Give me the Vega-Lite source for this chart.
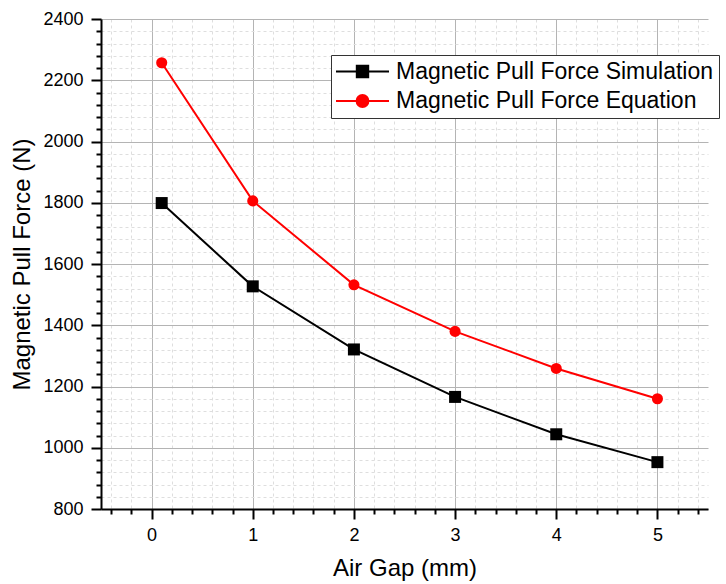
{
  "$schema": "https://vega.github.io/schema/vega-lite/v6.json",
  "width": 607,
  "height": 490,
  "autosize": {"type": "none"},
  "padding": {"left": 101, "top": 19, "right": 18, "bottom": 75},
  "background": "white",
  "config": {
    "view": {"stroke": null},
    "font": "Liberation Sans",
    "axis": {
      "labelFont": "Liberation Sans",
      "titleFont": "Liberation Sans",
      "labelColor": "black",
      "titleColor": "black",
      "titleFontWeight": "normal",
      "domainColor": "black",
      "domainWidth": 2,
      "tickColor": "black",
      "tickWidth": 2,
      "labelOverlap": false,
      "labelFlush": false
    }
  },
  "data": {
    "values": [
      {"gap": 0.1, "force": 1799, "series": "Magnetic Pull Force Simulation"},
      {"gap": 1, "force": 1527, "series": "Magnetic Pull Force Simulation"},
      {"gap": 2, "force": 1321, "series": "Magnetic Pull Force Simulation"},
      {"gap": 3, "force": 1166, "series": "Magnetic Pull Force Simulation"},
      {"gap": 4, "force": 1044, "series": "Magnetic Pull Force Simulation"},
      {"gap": 5, "force": 953, "series": "Magnetic Pull Force Simulation"},
      {"gap": 0.1, "force": 2257, "series": "Magnetic Pull Force Equation"},
      {"gap": 1, "force": 1806, "series": "Magnetic Pull Force Equation"},
      {"gap": 2, "force": 1532, "series": "Magnetic Pull Force Equation"},
      {"gap": 3, "force": 1380, "series": "Magnetic Pull Force Equation"},
      {"gap": 4, "force": 1259, "series": "Magnetic Pull Force Equation"},
      {"gap": 5, "force": 1160, "series": "Magnetic Pull Force Equation"}
    ]
  },
  "encoding": {
    "x": {
      "field": "gap",
      "type": "quantitative",
      "scale": {"domain": [-0.5, 5.5], "nice": false, "zero": false},
      "axis": {
        "title": "Air Gap (mm)",
        "titleFontSize": 24,
        "titlePadding": 12,
        "labelFontSize": 18,
        "labelPadding": 7,
        "values": [-0.4, -0.2, 0, 0.2, 0.4, 0.6, 0.8, 1, 1.2, 1.4, 1.6, 1.8, 2, 2.2, 2.4, 2.6, 2.8, 3, 3.2, 3.4, 3.6, 3.8, 4, 4.2, 4.4, 4.6, 4.8, 5, 5.2, 5.4],
        "labelExpr": "abs(datum.value - round(datum.value)) < 0.001 ? format(datum.value, 'd') : ''",
        "grid": true,
        "gridColor": {"condition": {"test": "abs(datum.value - round(datum.value)) < 0.001", "value": "#b4b4b4"}, "value": "#dedede"},
        "gridDash": {"condition": {"test": "abs(datum.value - round(datum.value)) < 0.001", "value": []}, "value": [3, 3]},
        "tickSize": {"condition": {"test": "abs(datum.value - round(datum.value)) < 0.001", "value": 10}, "value": 5}
      }
    },
    "y": {
      "field": "force",
      "type": "quantitative",
      "scale": {"domain": [800, 2400], "nice": false, "zero": false},
      "axis": {
        "title": "Magnetic Pull Force (N)",
        "titleFontSize": 24,
        "titlePadding": 8,
        "labelFontSize": 18,
        "labelPadding": 8,
        "values": [800, 840, 880, 920, 960, 1000, 1040, 1080, 1120, 1160, 1200, 1240, 1280, 1320, 1360, 1400, 1440, 1480, 1520, 1560, 1600, 1640, 1680, 1720, 1760, 1800, 1840, 1880, 1920, 1960, 2000, 2040, 2080, 2120, 2160, 2200, 2240, 2280, 2320, 2360, 2400],
        "labelExpr": "datum.value % 200 === 0 ? datum.label : ''",
        "format": "d",
        "grid": true,
        "gridColor": {"condition": {"test": "datum.value % 200 === 0", "value": "#b4b4b4"}, "value": "#dedede"},
        "gridDash": {"condition": {"test": "datum.value % 200 === 0", "value": []}, "value": [3, 3]},
        "tickSize": {"condition": {"test": "datum.value % 200 === 0", "value": 10}, "value": 5}
      }
    },
    "color": {
      "field": "series",
      "type": "nominal",
      "sort": ["Magnetic Pull Force Simulation", "Magnetic Pull Force Equation"],
      "scale": {"domain": ["Magnetic Pull Force Simulation", "Magnetic Pull Force Equation"], "range": ["#000000", "#ff0000"]},
      "legend": {
        "title": null,
        "orient": "none",
        "legendX": 230,
        "legendY": 36,
        "direction": "vertical",
        "labelFont": "Liberation Sans",
        "labelFontSize": 23,
        "labelColor": "black",
        "labelLimit": 0,
        "labelOffset": 37,
        "symbolSize": 196,
        "symbolStrokeWidth": 2,
        "rowPadding": 5.5,
        "padding": 5,
        "strokeColor": "#333333",
        "fillColor": "white",
        "labelBaseline": "middle",
        "encode": {
          "symbols": {
            "update": {
              "shape": {"signal": "datum.value === 'Magnetic Pull Force Simulation' ? 'M-1.643,0H5.929M1.329,-0.814H2.957V0.814H1.329Z' : 'M-1.643,0H5.929M2.986,0A0.843,0.843,0,1,1,1.3,0A0.843,0.843,0,1,1,2.986,0Z'"},
              "fill": {"signal": "datum.value === 'Magnetic Pull Force Simulation' ? '#000000' : '#ff0000'"},
              "stroke": {"signal": "datum.value === 'Magnetic Pull Force Simulation' ? '#000000' : '#ff0000'"},
              "opacity": {"value": 1}
            }
          }
        }
      }
    }
  },
  "layer": [
    {
      "mark": {"type": "line", "strokeWidth": 2}
    },
    {
      "transform": [{"filter": "datum.series === 'Magnetic Pull Force Simulation'"}],
      "mark": {"type": "square", "size": 144, "opacity": 1, "filled": true}
    },
    {
      "transform": [{"filter": "datum.series === 'Magnetic Pull Force Equation'"}],
      "mark": {"type": "circle", "size": 123, "opacity": 1, "filled": true}
    }
  ]
}
